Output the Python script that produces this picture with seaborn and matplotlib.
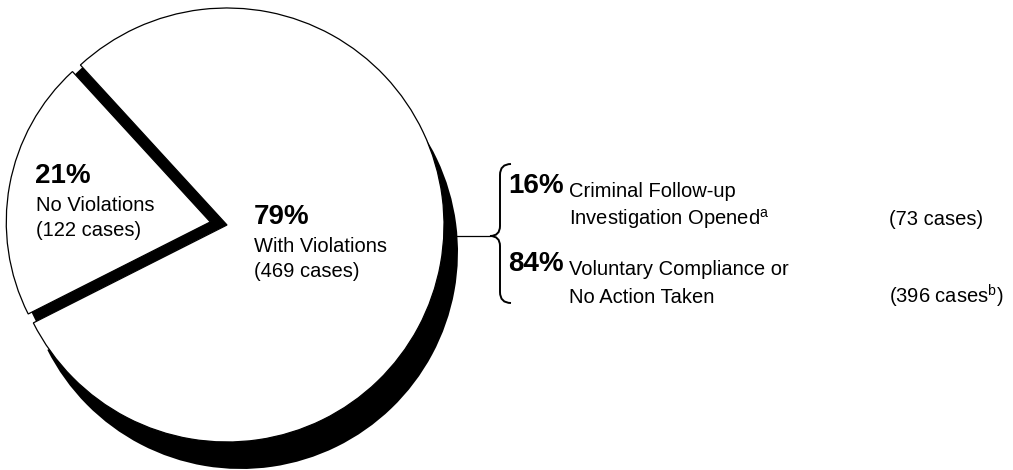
import matplotlib
matplotlib.use("Agg")
import matplotlib.pyplot as plt
import seaborn as sns
from matplotlib.path import Path
from matplotlib.patches import PathPatch

# ---- data ----
categories = ["No Violations", "With Violations"]
pcts = [21, 79]
cases = [122, 469]
sub_categories = ["Criminal Follow-up\nInvestigation Opened", "Voluntary Compliance or\nNo Action Taken"]
sub_pcts = [16, 84]
sub_cases = [73, 396]
sub_notes = ["a", "b"]

sns.set_theme(style="white")
plt.rcParams["font.family"] = ["Liberation Sans", "DejaVu Sans"]
plt.rcParams["text.color"] = "black"
plt.rcParams["mathtext.fontset"] = "custom"
plt.rcParams["mathtext.rm"] = "Liberation Sans"
plt.rcParams["mathtext.it"] = "Liberation Sans:italic"
plt.rcParams["mathtext.bf"] = "Liberation Sans:bold"

W, H = 1013, 470
fig = plt.figure(figsize=(W / 100, H / 100), dpi=100)
ax = fig.add_axes([0, 0, 1, 1])

def Y(y):
    return H - y

R_big, R_small = 217, 204
cx, cy = 227, Y(225)
start = 132.5
edge = dict(edgecolor="black", linewidth=0.9)

# shadow of large slice
w, _ = ax.pie(cases, colors=["none", "black"], startangle=start, radius=R_big,
              center=(cx + 14, cy - 27), frame=True, wedgeprops=dict(linewidth=0))
w[0].set_visible(False)
# dark gap where the small slice was pulled out
w, _ = ax.pie(cases, colors=["black", "none"], startangle=start, radius=214,
              center=(cx, cy), frame=True, wedgeprops=dict(linewidth=0))
w[1].set_visible(False)
# large slice
w, _ = ax.pie(cases, colors=["white", "white"], startangle=start, radius=R_big,
              center=(cx, cy), frame=True, wedgeprops=edge)
w[0].set_visible(False)
# small (exploded) slice
w, _ = ax.pie(cases, colors=["white", "white"], startangle=start, radius=R_small,
              center=(cx, cy), explode=[17, 0], frame=True, wedgeprops=edge)
w[1].set_visible(False)

reg = 14.5
big = 20

# labels inside slices
ax.text(35, Y(183), f"{pcts[0]}%", fontsize=big, fontweight="bold", va="baseline", ha="left")
ax.text(36, Y(211), categories[0], fontsize=reg, va="baseline", ha="left")
ax.text(36, Y(236), f"({cases[0]} cases)", fontsize=reg, va="baseline", ha="left")

ax.text(254, Y(224), f"{pcts[1]}%", fontsize=big, fontweight="bold", va="baseline", ha="left")
ax.text(254, Y(252), categories[1], fontsize=reg, va="baseline", ha="left")
ax.text(254, Y(277), f"({cases[1]} cases)", fontsize=reg, va="baseline", ha="left")

# connector + brace
ax.plot([445, 490], [Y(236), Y(236)], color="black", lw=0.9)
top, tip, bot = 164, 236, 303
bx, tx, hx = 500, 490, 511
verts = [(hx, Y(top)), (bx, Y(top)), (bx, Y(top + 11)),
         (bx, Y(tip - 10)),
         (bx, Y(tip)), (tx, Y(tip)),
         (bx, Y(tip)), (bx, Y(tip + 10)),
         (bx, Y(bot - 11)),
         (bx, Y(bot)), (hx, Y(bot))]
codes = [Path.MOVETO, Path.CURVE3, Path.CURVE3,
         Path.LINETO,
         Path.CURVE3, Path.CURVE3,
         Path.CURVE3, Path.CURVE3,
         Path.LINETO,
         Path.CURVE3, Path.CURVE3]
ax.add_patch(PathPatch(Path(verts, codes), facecolor="none", edgecolor="black", lw=1.4))

# sub-breakdown
rows = [(193, 197, 225), (271, 275, 303)]
for i, (yb, y1, y2) in enumerate(rows):
    l1, l2 = sub_categories[i].split("\n")
    ax.text(508, Y(yb), f"{sub_pcts[i]}%", fontsize=big, fontweight="bold", va="baseline", ha="left")
    ax.text(569, Y(y1), l1, fontsize=reg, va="baseline", ha="left")
    if i == 0:
        ax.text(569, Y(y2), l2 + r"$^{\mathrm{" + sub_notes[i] + "}}$", fontsize=reg, va="baseline", ha="left")
        ax.text(889, Y(y2), f"({sub_cases[i]} cases)", fontsize=reg, va="baseline", ha="left")
    else:
        ax.text(569, Y(y2), l2, fontsize=reg, va="baseline", ha="left")
        ax.text(889, Y(y2), f"({sub_cases[i]} cases" + r"$^{\mathrm{" + sub_notes[i] + "}}$)",
                fontsize=reg, va="baseline", ha="left")

ax.set_xlim(0, W)
ax.set_ylim(0, H)
ax.set_axis_off()
fig.savefig("out.png", dpi=100, facecolor="white")
